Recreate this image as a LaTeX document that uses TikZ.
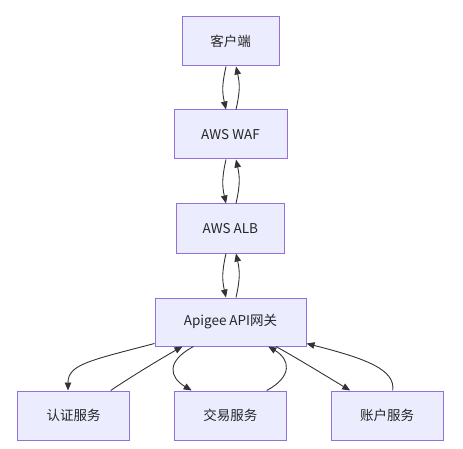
\documentclass[tikz,border=0pt]{standalone}
\usepackage{fontspec}
\setmainfont{Noto Sans CJK SC}
\usetikzlibrary{arrows.meta}
\definecolor{boxfill}{HTML}{ECECFF}
\definecolor{boxline}{HTML}{9370DB}
\definecolor{edge}{HTML}{333333}
\tikzset{
  box/.style={draw=boxline, fill=boxfill, line width=1pt, inner sep=0pt, minimum height=49pt, font=\fontsize{13.5}{16}\selectfont, text=black!85},
  conn/.style={draw=edge, line width=0.9pt, -{Triangle[length=8pt,width=6.5pt]}}
}
\begin{document}
\begin{tikzpicture}[x=1pt,y=-1pt]
\useasboundingbox (0,0) rectangle (463,449);
\node[box, minimum width=97pt] (client) at (230.5,41.5) {客户端};
\node[box, minimum width=113pt] (waf) at (230.5,134.5) {AWS WAF};
\node[box, minimum width=108pt] (alb) at (230.3,228.5) {AWS ALB};
\node[box, minimum width=151pt, minimum height=48pt] (apigee) at (230.5,322) {Apigee API网关};
\node[box, minimum width=112pt] (auth) at (73.7,415.5) {认证服务};
\node[box, minimum width=112pt] (trade) at (230.3,415.5) {交易服务};
\node[box, minimum width=112pt] (account) at (387.2,415.5) {账户服务};

% vertical pairs
\draw[conn] ([xshift=-4.5pt]client.south) .. controls +(-4,18) and +(-4,-18) .. ([xshift=-4.5pt]waf.north);
\draw[conn] ([xshift=5.5pt]waf.north) .. controls +(4,-18) and +(4,18) .. ([xshift=5.5pt]client.south);
\draw[conn] ([xshift=-4.5pt]waf.south) .. controls +(-4,18) and +(-4,-18) .. ([xshift=-4.3pt]alb.north);
\draw[conn] ([xshift=5.7pt]alb.north) .. controls +(4,-18) and +(4,18) .. ([xshift=5.5pt]waf.south);
\draw[conn] ([xshift=-4.3pt]alb.south) .. controls +(-4,18) and +(-4,-18) .. ([xshift=-4.5pt]apigee.north);
\draw[conn] ([xshift=5.5pt]apigee.north) .. controls +(4,-18) and +(4,18) .. ([xshift=5.7pt]alb.south);

% bottom fan
\draw[conn] ([yshift=3pt]apigee.south west) .. controls +(-65,17) and +(0,-26) .. ([xshift=-5.7pt]auth.north);
\draw[conn] ([xshift=37pt]auth.north) .. controls +(19,-13) and +(-18,10) .. ([xshift=-48pt]apigee.south);
\draw[conn] ([xshift=-37pt]apigee.south) .. controls +(-28,15) and +(-22,-13) .. ([xshift=-38.6pt]trade.north);
\draw[conn] ([xshift=36.4pt]trade.north) .. controls +(26,-14) and +(22,13) .. ([xshift=37.8pt]apigee.south);
\draw[conn] ([xshift=45.5pt]apigee.south) .. controls +(25,14) and +(-25,-15) .. ([xshift=-37pt]account.north);
\draw[conn] ([xshift=5.5pt]account.north) .. controls +(3,-21) and +(59,15) .. ([yshift=3pt]apigee.south east);
\end{tikzpicture}
\end{document}
